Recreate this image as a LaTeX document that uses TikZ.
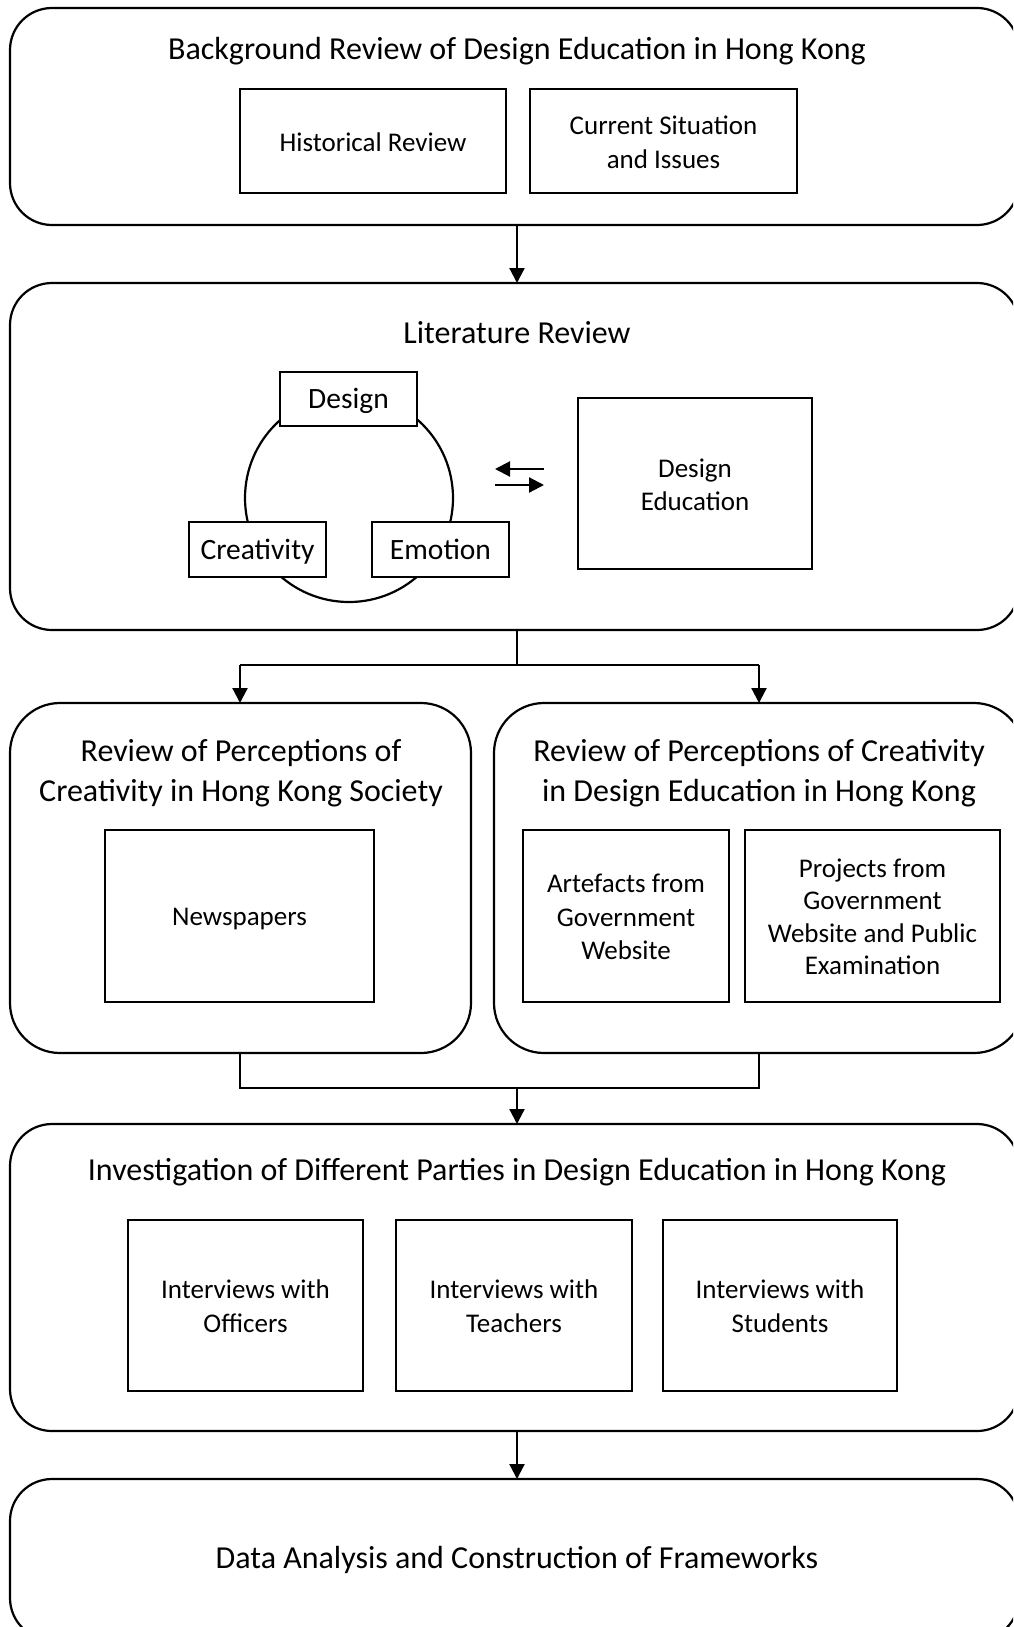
\documentclass[tikz,border=0pt]{standalone}
\usepackage{fontspec}
\setmainfont{Carlito}
\usetikzlibrary{arrows.meta}
\begin{document}
\begin{tikzpicture}[x=1pt,y=-1pt,
  line width=2.2pt,
  outer/.style={draw,rounded corners=42pt},
  outerb/.style={draw,rounded corners=50pt},
  inbox/.style={draw,fill=white,inner sep=0pt},
  intext/.style={align=center,font=\fontsize{27}{33.5}\selectfont},
  title/.style={align=center,font=\fontsize{32}{40}\selectfont},
  arr/.style={-{Triangle[length=15pt,width=15pt]}},
  smalltext/.style={font=\fontsize{29.5}{34}\selectfont}
]
\useasboundingbox (0,0) rectangle (1013,1627);
\clip (0,0) rectangle (1013,1627);
% Box 1
\draw[outer] (10,8) rectangle (1019,225);
\node[title] (t1) at (517,51) {Background Review of Design Education in Hong Kong};
\node[inbox,minimum width=266pt,minimum height=104pt] (hist) at (373,141) {};
\node[intext] (histt) at (373,142.5) {Historical Review};
\node[inbox,minimum width=267pt,minimum height=104pt] (cur) at (663.5,141) {};
\node[intext] (curt) at (663.5,142.5) {Current Situation\\and Issues};
\coordinate (b1s) at (517,225);
\coordinate (b2n) at (517,283);
\draw[arr] (b1s) -- (b2n);
% Box 2
\draw[outer] (10,283) rectangle (1019,630);
\node[title] (t2) at (517,333) {Literature Review};
\draw (349,498) circle (104);
\node[inbox,minimum width=137pt,minimum height=54pt] (des) at (348.5,399) {};
\node[smalltext] (dest) at (348.5,401) {Design};
\node[inbox,minimum width=137pt,minimum height=55pt] (cre) at (257.5,549.5) {};
\node[smalltext] (cret) at (257.5,551.5) {Creativity};
\node[inbox,minimum width=137pt,minimum height=55pt] (emo) at (440.5,549.5) {};
\node[smalltext] (emot) at (440.5,549.5) {Emotion};
\node[inbox,minimum width=234pt,minimum height=171pt] (dedu) at (695,483.5) {};
\node[intext] (dedut) at (695,485) {Design\\Education};
\coordinate (a1s) at (544,469);
\coordinate (a1e) at (495,469);
\coordinate (a2s) at (495,485);
\coordinate (a2e) at (544,485);
\draw[arr] (a1s) -- (a1e);
\draw[arr] (a2s) -- (a2e);
% split
\coordinate (b2s) at (517,630);
\coordinate (sp) at (517,665);
\coordinate (spl) at (240,665);
\coordinate (spr) at (759,665);
\coordinate (b3ln) at (240,703);
\coordinate (b3rn) at (759,703);
\draw (b2s) -- (sp);
\draw[arr] (spl) -- (b3ln);
\draw[arr] (spr) -- (b3rn);
\draw (spl) -- (spr);
% Box 3 left
\draw[outerb] (10,703) rectangle (471,1053);
\node[title] (t3l) at (241,773) {Review of Perceptions of\\Creativity in Hong Kong Society};
\node[inbox,minimum width=269pt,minimum height=172pt] (news) at (239.5,916) {};
\node[intext] (newst) at (239.5,919) {Newspapers};
% Box 3 right
\draw[outerb] (494,703) rectangle (1024,1053);
\node[title] (t3r) at (759,773) {Review of Perceptions of Creativity\\in Design Education in Hong Kong};
\node[inbox,minimum width=206pt,minimum height=172pt] (art) at (626,916) {};
\node[intext] (artt) at (626,917) {Artefacts from\\Government\\Website};
\node[inbox,minimum width=255pt,minimum height=172pt] (proj) at (872.5,916) {};
\node[intext,font=\fontsize{27}{32.5}\selectfont] (projt) at (872.5,917) {Projects from\\Government\\Website and Public\\Examination};
% merge
\coordinate (b3ls) at (240,1053);
\coordinate (b3rs) at (759,1053);
\coordinate (ml) at (240,1088);
\coordinate (mr) at (759,1088);
\coordinate (mm) at (517,1088);
\coordinate (b4n) at (517,1124);
\draw (b3ls) -- (ml) -- (mr) -- (b3rs);
\draw[arr] (mm) -- (b4n);
% Box 4
\draw[outer] (10,1124) rectangle (1019,1431);
\node[title] (t4) at (517,1172) {Investigation of Different Parties in Design Education in Hong Kong};
\node[inbox,minimum width=235pt,minimum height=171pt] (off) at (245.5,1305.5) {};
\node[intext] (offt) at (245.5,1306) {Interviews with\\Officers};
\node[inbox,minimum width=236pt,minimum height=171pt] (tea) at (514,1305.5) {};
\node[intext] (teat) at (514,1306) {Interviews with\\Teachers};
\node[inbox,minimum width=234pt,minimum height=171pt] (stu) at (780,1305.5) {};
\node[intext] (stut) at (780,1306) {Interviews with\\Students};
\coordinate (b4s) at (517,1431);
\coordinate (b5n) at (517,1479);
\draw[arr] (b4s) -- (b5n);
% Box 5
\draw[outer] (10,1479) rectangle (1019,1640);
\node[title] (t5) at (517,1560) {Data Analysis and Construction of Frameworks};
\end{tikzpicture}
\end{document}
